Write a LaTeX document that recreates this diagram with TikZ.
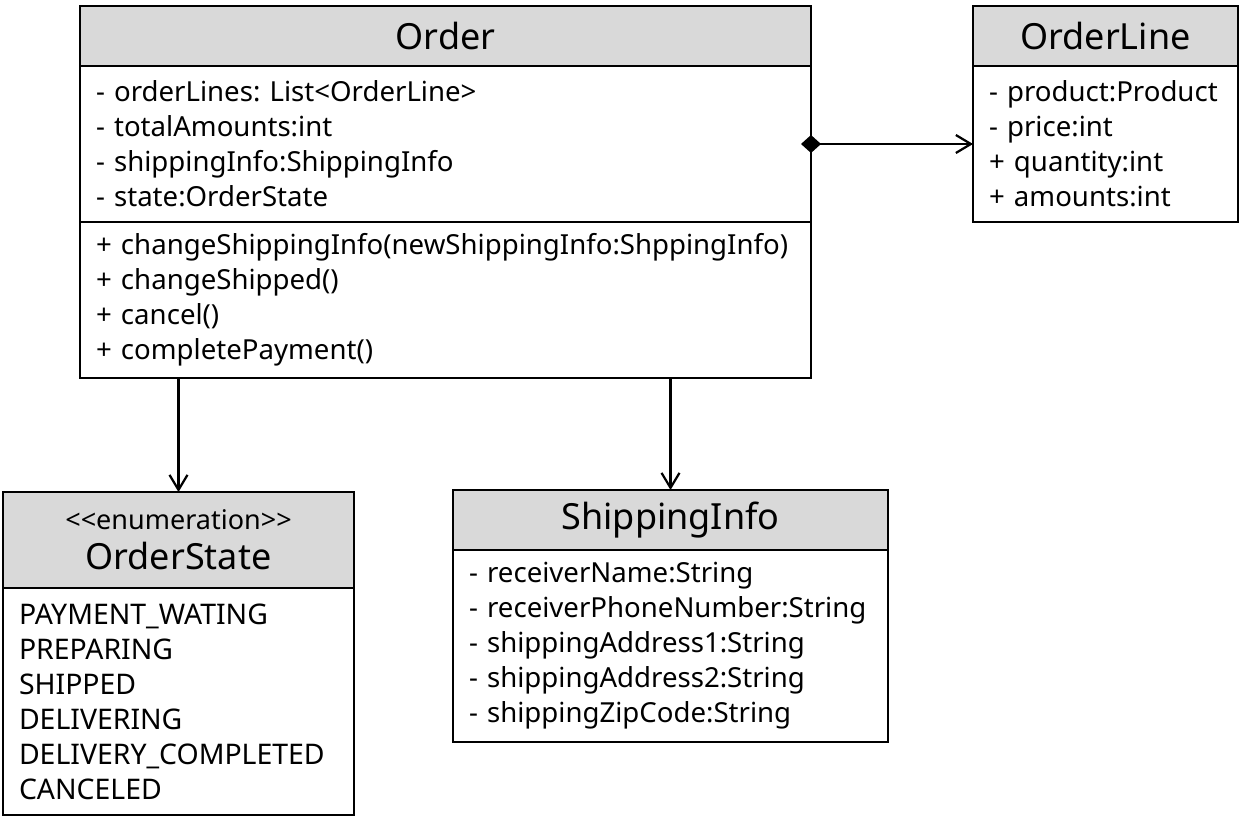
\documentclass[tikz,border=0pt]{standalone}
\usepackage{fontspec}
\setmainfont{Noto Sans}
\usetikzlibrary{positioning}
\usetikzlibrary{arrows.meta}
\tikzset{
	headstyle/.style={rectangle,draw=black,fill=black!15,line width=0.8pt,outer sep=0pt,inner sep=0pt,align=center,font=\fontsize{18}{20}\selectfont},
	partstyle/.style={rectangle,draw=black,fill=white,line width=0.8pt,outer sep=0pt,inner xsep=8pt,inner ysep=0pt,align=left,font=\fontsize{13.8}{17.5}\selectfont},
	linkstyle/.style={line width=1.1pt,-{Straight Barb[length=7.5pt,width=9pt]}}
}
\begin{document}
\frenchspacing
\begin{tikzpicture}
		\useasboundingbox (0,0) rectangle (620.5pt,-412pt);
		% Order
		\node[headstyle,text width=365.5pt,minimum height=30pt,anchor=north west] (order) at (40pt,-3pt) {Order};
		\node[partstyle,text width=349.5pt,minimum height=78pt,below=0pt of order] (orderattr) {- orderLines: List<OrderLine>\\- totalAmounts:int\\- shippingInfo:ShippingInfo\\- state:OrderState};
		\node[partstyle,text width=349.5pt,minimum height=78pt,below=0pt of orderattr] (ordermeth) {+ changeShippingInfo(newShippingInfo:ShppingInfo)\\+ changeShipped()\\+ cancel()\\+ completePayment()};
		% OrderLine
		\node[headstyle,text width=132.5pt,minimum height=30pt,anchor=north west] (orderline) at (486.5pt,-3pt) {OrderLine};
		\node[partstyle,text width=116.5pt,minimum height=78pt,below=0pt of orderline] (lineattr) {- product:Product\\- price:int\\+ quantity:int\\+ amounts:int};
		% OrderState
		\node[headstyle,text width=175.5pt,minimum height=48pt,anchor=north west] (state) at (1.5pt,-246pt) {{\fontsize{13.5}{15}\selectfont <\kern0pt<enumeration>\kern0pt>}\\OrderState};
		\node[partstyle,text width=159.5pt,minimum height=113.5pt,below=0pt of state,font=\fontsize{14.2}{17.5}\selectfont] (stateitems) {PAYMENT\_WATING\\PREPARING\\SHIPPED\\DELIVERING\\DELIVERY\_COMPLETED\\CANCELED};
		% ShippingInfo
		\node[headstyle,text width=217.5pt,minimum height=30pt,anchor=north west] (ship) at (226.5pt,-245pt) {ShippingInfo};
		\node[partstyle,text width=201.5pt,minimum height=96pt,below=0pt of ship] (shipattr) {- receiverName:String\\- receiverPhoneNumber:String\\- shippingAddress1:String\\- shippingAddress2:String\\- shippingZipCode:String};
		% connectors
		\draw[linkstyle,{Diamond[length=10pt,width=9pt]}-{Straight Barb[length=7.5pt,width=9pt]}] ([xshift=-5pt]orderattr.east) -- (orderattr.east -| orderline.west);
		\draw[linkstyle] (state.north |- ordermeth.south) -- (state.north);
		\draw[linkstyle] (ship.north |- ordermeth.south) -- (ship.north);
		\end{tikzpicture}
\end{document}
